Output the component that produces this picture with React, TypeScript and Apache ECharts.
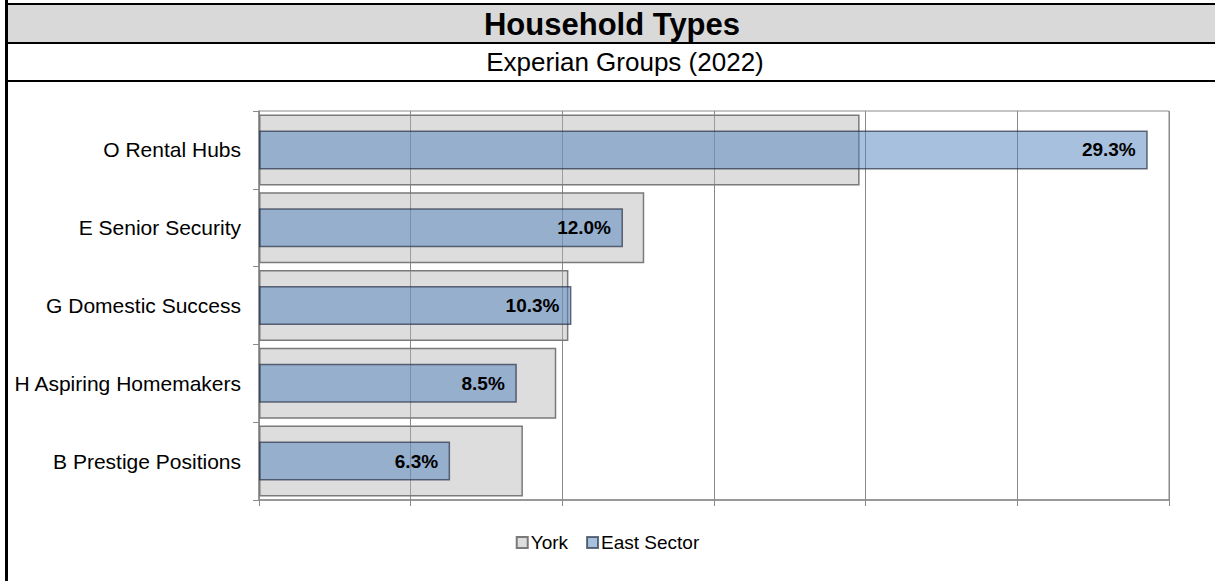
import React, { useEffect, useRef } from "react";
import * as echarts from "echarts";

const categories = [
  "O Rental Hubs",
  "E Senior Security",
  "G Domestic Success",
  "H Aspiring Homemakers",
  "B Prestige Positions",
];
const yorkValues = [19.8, 12.7, 10.2, 9.8, 8.7];
const eastSectorValues = [29.3, 12.0, 10.3, 8.5, 6.3];
const seriesNames = ["York", "East Sector"];
const titleText = "Household Types";
const subtitleText = "Experian Groups (2022)";

const FONT = "'Liberation Sans', Arial, sans-serif";

export default function App() {
  const ref = useRef<HTMLDivElement>(null);
  useEffect(() => {
    if (!ref.current) return;
    const chart = echarts.init(ref.current, undefined, { renderer: "svg" });
    chart.setOption({
      animation: false,
      backgroundColor: "#ffffff",
      textStyle: { fontFamily: FONT },
      graphic: [
        { type: "rect", shape: { x: 5, y: 5, width: 1215, height: 37 }, style: { fill: "#d9d9d9" }, z: 0 },
        { type: "rect", shape: { x: 5, y: 3, width: 1215, height: 2 }, style: { fill: "#000" }, z: 1 },
        { type: "rect", shape: { x: 5, y: 42, width: 1215, height: 2 }, style: { fill: "#000" }, z: 1 },
        { type: "rect", shape: { x: 5, y: 80, width: 1215, height: 2 }, style: { fill: "#000" }, z: 1 },
        { type: "rect", shape: { x: 5, y: 0, width: 3, height: 581 }, style: { fill: "#000" }, z: 1 },
        {
          type: "text",
          x: 612,
          y: 24,
          z: 2,
          style: {
            text: titleText,
            fontFamily: FONT,
            fontSize: 31,
            fontWeight: "bold",
            fill: "#000",
            align: "center",
            verticalAlign: "middle",
          },
        },
        {
          type: "text",
          x: 625,
          y: 62,
          z: 2,
          style: {
            text: subtitleText,
            fontFamily: FONT,
            fontSize: 26,
            fill: "#000",
            align: "center",
            verticalAlign: "middle",
          },
        },
      ],
      legend: {
        data: seriesNames,
        left: "center",
        top: 528,
        itemWidth: 11,
        itemHeight: 11,
        itemGap: 18,
        icon: "rect",
        textStyle: { fontFamily: FONT, fontSize: 19, color: "#000", padding: [0, 0, 0, -2] },
      },
      grid: {
        left: 259,
        right: 46,
        top: 111,
        bottom: 81,
        show: true,
        borderColor: "#8a8a8a",
        borderWidth: 1,
        containLabel: false,
      },
      xAxis: {
        type: "value",
        min: 0,
        max: 30,
        interval: 5,
        axisLabel: { show: false },
        axisLine: { show: true, lineStyle: { color: "#8a8a8a", width: 1.5 } },
        axisTick: { show: true, length: 6, lineStyle: { color: "#8a8a8a" } },
        splitLine: { show: true, lineStyle: { color: "#8a8a8a", width: 1 } },
      },
      yAxis: [
        {
          type: "category",
          data: categories,
          inverse: true,
          axisLine: { show: true, lineStyle: { color: "#8a8a8a", width: 1.5 } },
          axisTick: { show: true, length: 6, lineStyle: { color: "#8a8a8a" } },
          axisLabel: { fontFamily: FONT, fontSize: 21, color: "#000", margin: 18 },
          splitLine: { show: false },
        },
        {
          type: "category",
          data: categories,
          inverse: true,
          show: false,
        },
      ],
      series: [
        {
          name: seriesNames[0],
          type: "bar",
          yAxisIndex: 0,
          data: yorkValues,
          barWidth: 71,
          itemStyle: {
            color: "rgba(180,180,180,0.45)",
            borderColor: "#7a7a7a",
            borderWidth: 1.5,
          },
        },
        {
          name: seriesNames[1],
          type: "bar",
          yAxisIndex: 1,
          data: eastSectorValues,
          barWidth: 39,
          itemStyle: {
            color: "rgba(79,129,189,0.5)",
            borderColor: "rgba(40,50,70,0.7)",
            borderWidth: 1.5,
          },
          label: {
            show: true,
            position: "insideRight",
            distance: 12,
            formatter: (p: any) => p.value.toFixed(1) + "%",
            fontFamily: FONT,
            fontSize: 19,
            fontWeight: "bold",
            color: "#000",
          },
        },
      ],
    });
    return () => chart.dispose();
  }, []);
  return (
    <div
      ref={ref}
      style={{ position: "fixed", left: 0, top: 0, width: 1215, height: 581 }}
    />
  );
}
